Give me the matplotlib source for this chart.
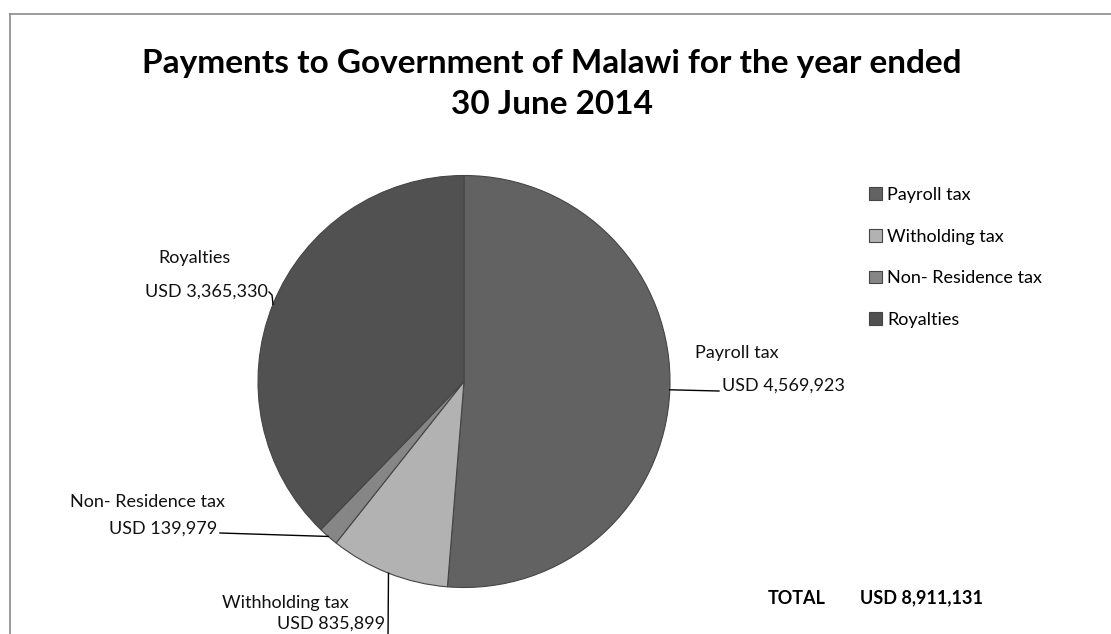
import matplotlib
matplotlib.use("Agg")
import matplotlib.pyplot as plt
import numpy as np
from matplotlib.lines import Line2D

plt.rcParams['font.family'] = ['Lato', 'DejaVu Sans']

# dane
categories = ['Payroll tax', 'Witholding tax', 'Non- Residence tax', 'Royalties']
slice_names = ['Payroll tax', 'Withholding tax', 'Non- Residence tax', 'Royalties']
values = [4569923, 835899, 139979, 3365330]
colors = ['#626262', '#b2b2b2', '#868686', '#515151']
title_lines = ['Payments to Government of Malawi for the year ended', '30 June 2014']

W, H = 1111, 634
fig = plt.figure(figsize=(W / 100, H / 100), dpi=100)

def fx(x):
    return x / W

def fy(y):
    # y liczone od gory obrazka
    return 1 - y / H

# ramka wykresu
fig.add_artist(Line2D([fx(9.5), fx(9.5)], [fy(13.5), fy(640)], color='#8a8a8a', lw=1.2))
fig.add_artist(Line2D([fx(9.5), fx(1115)], [fy(13.5), fy(13.5)], color='#8a8a8a', lw=1.2))

# tytul - dwie linie osobno
for line, ty in zip(title_lines, [64, 104]):
    fig.text(fx(552), fy(ty), line, ha='center', va='center', fontsize=24, fontweight='bold')

# kolo
cx, cy, r = 464, 381.5, 206
ax = fig.add_axes([fx(cx - r), fy(cy + r), 2 * r / W, 2 * r / H])
wedges, _ = ax.pie(values, colors=colors, startangle=90, counterclock=False,
                   wedgeprops=dict(edgecolor='#454545', linewidth=0.8))
ax.set_xlim(-1, 1)
ax.set_ylim(-1, 1)
ax.axis('off')

FS = 13

# etykiety z liniami
label_pos = {
    # name: (name_xy, value_xy, value_ha, leader end points)
    'Payroll tax': ((695, 353, 'left'), (722, 386, 'left'), [(719, 391)]),
    'Withholding tax': ((222, 603, 'left'), (277, 624, 'left'), [(388, 640)]),
    'Non- Residence tax': ((70, 502, 'left'), (217, 529, 'right'), [(220, 533)]),
    'Royalties': ((195, 258, 'center'), (268, 292, 'right'), [(272, 295), (269, 292)]),
}

for w, name, v in zip(wedges, slice_names, values):
    ang = np.deg2rad((w.theta1 + w.theta2) / 2)
    ex = cx + r * np.cos(ang)
    ey = cy - r * np.sin(ang)
    (nx, ny, nha), (vx, vy, vha), pts = label_pos[name]
    xs = [ex] + [p[0] for p in pts]
    ys = [ey] + [p[1] for p in pts]
    fig.add_artist(Line2D([fx(x) for x in xs], [fy(y) for y in ys], color='black', lw=1.0))
    fig.text(fx(nx), fy(ny), name, ha=nha, va='center', fontsize=FS, color='#111111')
    fig.text(fx(vx), fy(vy), 'USD {:,}'.format(v), ha=vha, va='center', fontsize=FS,
             color='#111111')

# legenda
leg = fig.legend(wedges, categories, loc='upper left', bbox_to_anchor=(fx(869), fy(187)),
                 frameon=False, fontsize=FS, labelspacing=1.42, handlelength=0.72,
                 handleheight=0.72, handletextpad=0.3, borderpad=0, borderaxespad=0)

total = sum(values)
fig.text(fx(768), fy(598), 'TOTAL', ha='left', va='center', fontsize=FS, fontweight='bold')
fig.text(fx(860), fy(598), 'USD {:,}'.format(total), ha='left', va='center', fontsize=FS,
         fontweight='bold')

fig.savefig('out.png', dpi=100)
